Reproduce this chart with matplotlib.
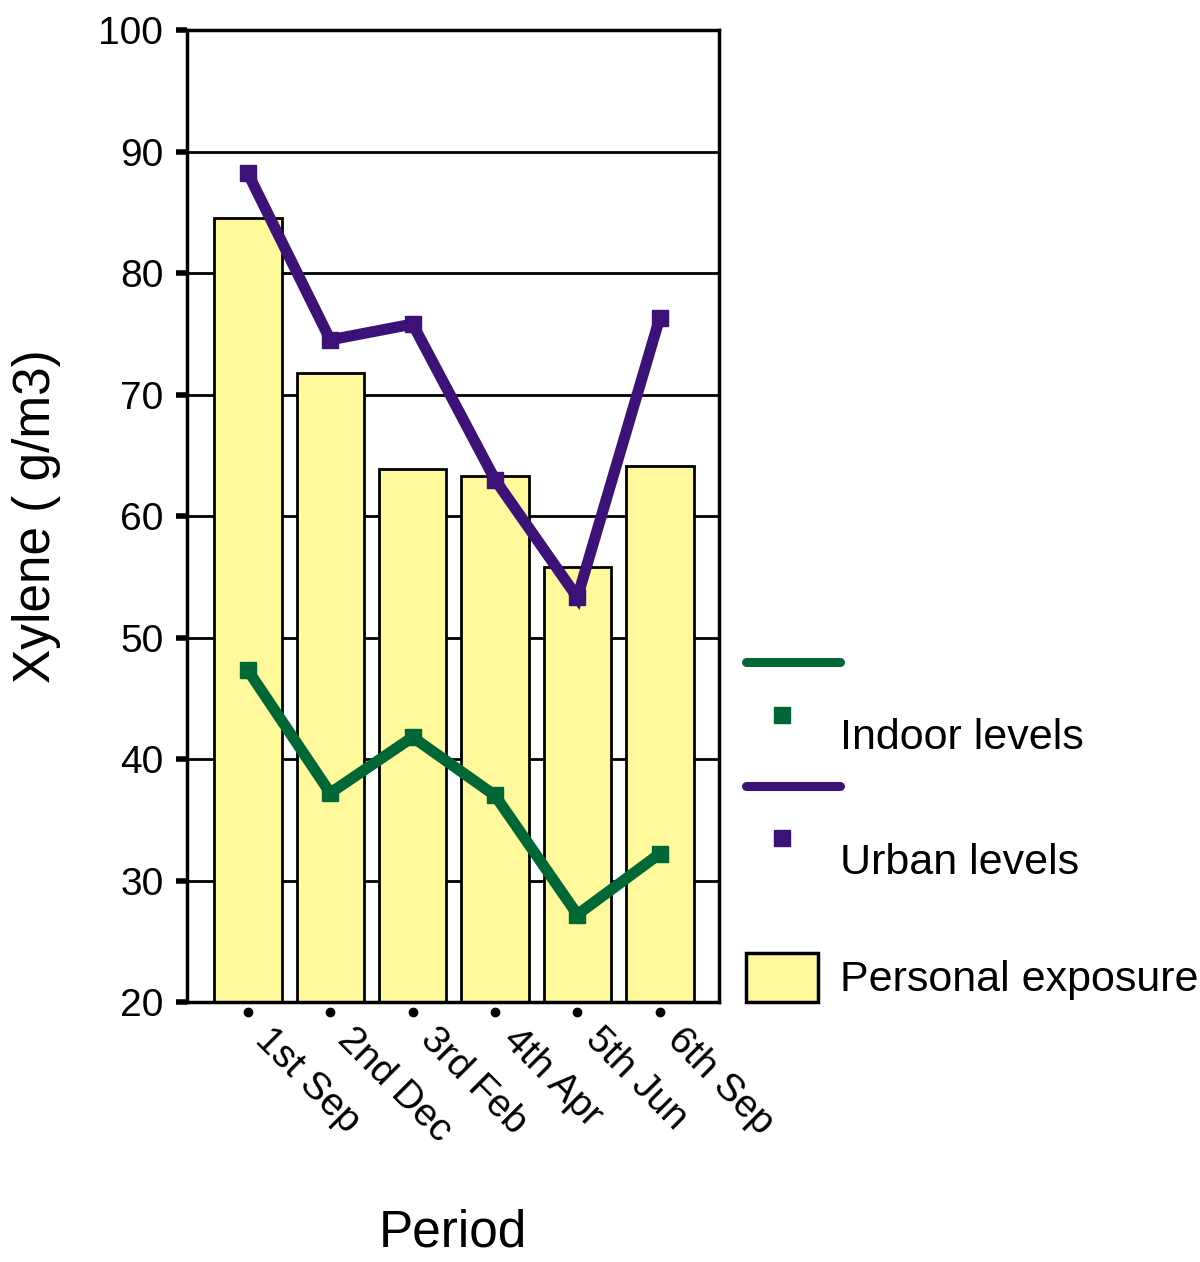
import numpy as np
import matplotlib.pyplot as plt
from matplotlib.lines import Line2D
from matplotlib.patches import Rectangle
from matplotlib.transforms import blended_transform_factory, ScaledTranslation

plt.rcParams['font.family'] = ['Liberation Sans', 'DejaVu Sans']

periods = ['1st Sep', '2nd Dec', '3rd Feb', '4th Apr', '5th Jun', '6th Sep']
personal = [84.5, 71.8, 63.9, 63.3, 55.8, 64.1]
urban = [88.2, 74.5, 75.8, 63.0, 53.3, 76.3]
indoor = [47.3, 37.2, 41.8, 37.0, 27.2, 32.2]

green = '#006837'
purple = '#3d1278'
yellow = '#fff99b'

fig = plt.figure(figsize=(12, 12.62), dpi=100)
ax = fig.add_axes([0.1558, 0.206, 0.4434, 0.7702])

x = np.arange(len(periods))
ax.bar(x, personal, width=0.82, bottom=0, color=yellow, edgecolor='black',
       linewidth=2, zorder=2)
ax.plot(x, urban, color=purple, lw=8, marker='s', ms=11, zorder=3,
        solid_joinstyle='miter')
ax.plot(x, indoor, color=green, lw=8, marker='s', ms=11, zorder=3,
        solid_joinstyle='miter')

ax.set_ylim(20, 100)
ax.set_xlim(-0.74, 5.72)
ax.set_yticks(range(20, 101, 10))
ax.yaxis.grid(True, color='black', lw=2, zorder=0)
ax.set_axisbelow(True)
for s in ax.spines.values():
    s.set_linewidth(2.5)
ax.tick_params(axis='y', direction='out', length=8, width=4, labelsize=28, pad=9)

# x ticks: small dots below the axis
ax.set_xticks(x)
ax.tick_params(axis='x', length=0, pad=14)
ax.set_xticklabels(periods, rotation=-45, ha='left', va='top',
                   rotation_mode='anchor', fontsize=28)
for lab in ax.get_xticklabels():
    lab.set_transform(lab.get_transform() + ScaledTranslation(0.26, 0, fig.dpi_scale_trans))
tr = blended_transform_factory(ax.transData, ax.transAxes) + \
    ScaledTranslation(0, -0.1, fig.dpi_scale_trans)
ax.plot(x, [0] * len(x), 'o', color='black', ms=6, transform=tr, clip_on=False)

ax.set_ylabel('Xylene ( g/m3)', fontsize=37)
ax.yaxis.set_label_coords(-0.237, 0.5)
ax.set_xlabel('Period', fontsize=37)
ax.xaxis.set_label_coords(0.5, -0.212)

# legend, drawn in figure pixels
def px(xp, yp):
    return xp / 1200, 1 - yp / 1262

for col, ly, my, ty, name in [(green, 662, 715, 738, 'Indoor levels'),
                              (purple, 786, 838, 863, 'Urban levels')]:
    fig.add_artist(Line2D([px(746, 0)[0], px(840, 0)[0]], [px(0, ly)[1]] * 2,
                          color=col, lw=6.5, solid_capstyle='round'))
    fig.add_artist(Line2D([px(782, 0)[0]], [px(0, my)[1]], marker='s', ms=11,
                          color=col, lw=0))
    fig.text(*px(840, ty), name, fontsize=31, va='center', ha='left')

fig.add_artist(Rectangle(px(746, 1002), 72 / 1200, 49 / 1262, facecolor=yellow,
                         edgecolor='black', lw=2.5, transform=fig.transFigure))
fig.text(*px(840, 980), 'Personal exposure', fontsize=31, va='center', ha='left')

fig.savefig('out.png', dpi=100)
